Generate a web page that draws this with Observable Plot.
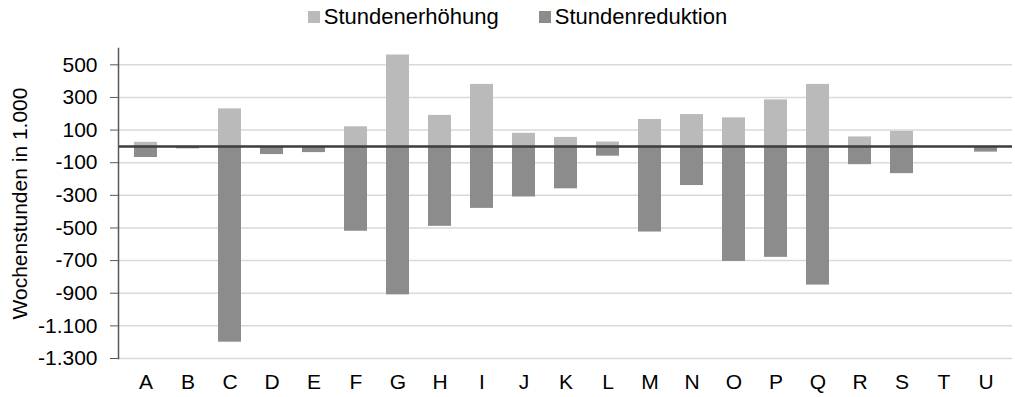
<!DOCTYPE html>
<html><head><meta charset="utf-8">
<script src="https://cdn.jsdelivr.net/npm/d3@7"></script>
<script src="https://cdn.jsdelivr.net/npm/@observablehq/plot@0.6"></script>
<style>
body{margin:0;background:#fff;font-family:"Liberation Sans",Arial,sans-serif;}
#legend{height:34px;width:1015px;display:flex;justify-content:center;align-items:center;gap:40px;font-size:22px;color:#000;padding-left:20px;box-sizing:border-box;}
.item{display:flex;align-items:center;}
.sw{width:12px;height:12px;margin-right:4px;display:inline-block;}
</style></head><body>
<div id="legend"></div>
<div id="chart"></div>
<script>
const categories = ["A","B","C","D","E","F","G","H","I","J","K","L","M","N","O","P","Q","R","S","T","U"];
const increase  = [25, 0, 230, 0, 0, 120, 560, 190, 380, 80, 55, 27, 165, 195, 175, 285, 380, 58, 92, 0, 0];
const reduction = [-68, -15, -1200, -50, -38, -520, -910, -490, -380, -310, -260, -60, -525, -240, -705, -680, -850, -112, -167, 0, -35];
const seriesNames = ["Stundenerhöhung", "Stundenreduktion"];
const seriesColors = ["#bababa", "#8c8c8c"];
const yTicks = [500, 300, 100, -100, -300, -500, -700, -900, -1100, -1300];
const yLabel = "Wochenstunden in 1.000";

const data = [];
categories.forEach((c, i) => {
  data.push({cat: c, series: seriesNames[0], value: increase[i]});
  data.push({cat: c, series: seriesNames[1], value: reduction[i]});
});

const fmt = d3.formatLocale({decimal: ",", thousands: ".", grouping: [3], currency: ["", "€"], minus: "-"}).format(",d");

const legend = document.getElementById("legend");
seriesNames.forEach((s, i) => {
  const it = document.createElement("div");
  it.className = "item";
  const sw = document.createElement("span");
  sw.className = "sw";
  sw.style.background = seriesColors[i];
  const t = document.createElement("span");
  t.textContent = s;
  it.appendChild(sw); it.appendChild(t);
  legend.appendChild(it);
});

const chart = Plot.plot({
  width: 1015,
  height: 363,
  marginLeft: 118,
  marginRight: 3,
  marginTop: 14,
  marginBottom: 39,
  style: {fontFamily: "Liberation Sans, Arial, sans-serif", fontSize: "21px", color: "#000", background: "#fff"},
  x: {domain: categories, paddingInner: 0.46, paddingOuter: 0.23, label: null},
  y: {domain: [-1300, 600], label: null},
  color: {domain: seriesNames, range: seriesColors},
  marks: [
    Plot.gridY(yTicks, {stroke: "#d9d9d9", strokeOpacity: 1, strokeWidth: 1.5}),
    Plot.barY(data, {x: "cat", y1: 0, y2: "value", fill: "series"}),
    Plot.ruleY([0], {stroke: "#3c3c3c", strokeWidth: 2.5}),
    Plot.frame({anchor: "left", stroke: "#595959", strokeWidth: 1.5}),
    Plot.axisY(yTicks, {tickSize: 8, tickPadding: 13, tickFormat: fmt, stroke: "#595959",
      label: yLabel, labelAnchor: "center", labelArrow: "none", labelOffset: 106}),
    Plot.axisX({tickSize: 0, tickPadding: 16, label: null})
  ]
});
document.getElementById("chart").appendChild(chart);
</script>
</body></html>
